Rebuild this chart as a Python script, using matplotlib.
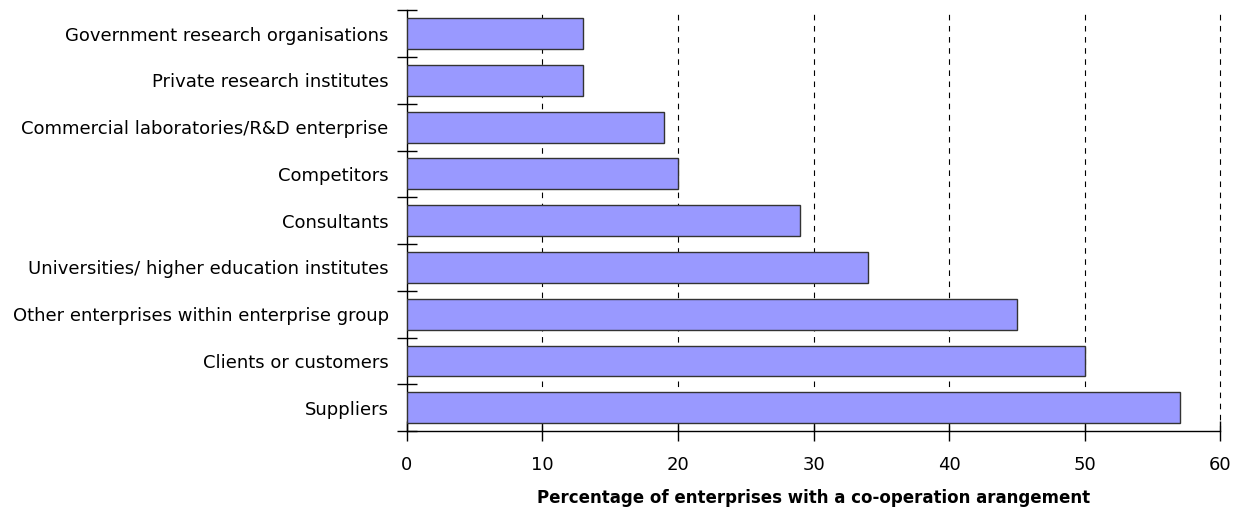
import matplotlib
matplotlib.use("Agg")
import matplotlib.pyplot as plt
import numpy as np

categories = [
    "Suppliers",
    "Clients or customers",
    "Other enterprises within enterprise group",
    "Universities/ higher education institutes",
    "Consultants",
    "Competitors",
    "Commercial laboratories/R&D enterprise",
    "Private research institutes",
    "Government research organisations",
]
values = [57, 50, 45, 34, 29, 20, 19, 13, 13]
xticks = [0, 10, 20, 30, 40, 50, 60]

plt.rcParams["font.family"] = "DejaVu Sans"

fig = plt.figure(figsize=(12.44, 5.12), dpi=100)
ax = fig.add_axes([0.327, 0.158, 0.654, 0.822])

y = np.arange(len(categories))
ax.barh(y, values, height=0.66, color="#9999ff", edgecolor="#333333",
        linewidth=1.0, zorder=3)

ax.set_xlim(0, 60)
ax.set_ylim(-0.5, len(categories) - 0.5)
ax.set_xticks(xticks)
ax.set_xticklabels([str(t) for t in xticks], fontsize=13)

# category labels sit in the middle of each band, ticks on the band edges
ax.set_yticks(y)
ax.set_yticklabels(categories, fontsize=13)
ax.tick_params(axis="y", which="major", length=0, pad=13)
ax.set_yticks(np.arange(len(categories) + 1) - 0.5, minor=True)
ax.tick_params(axis="y", which="minor", direction="inout", length=14,
               width=1, color="black")
ax.tick_params(axis="x", direction="inout", length=14, width=1, pad=11)

for t in xticks[1:]:
    ax.axvline(t, color="black", linestyle=(0, (5, 5)), linewidth=0.8,
               zorder=1, clip_on=False)

ax.spines["top"].set_visible(False)
ax.spines["right"].set_visible(False)
ax.spines["left"].set_linewidth(1)
ax.spines["bottom"].set_linewidth(1)

ax.set_xlabel("Percentage of enterprises with a co-operation arangement",
              fontsize=12, fontweight="bold", labelpad=11)

fig.savefig("out.png", dpi=100)
